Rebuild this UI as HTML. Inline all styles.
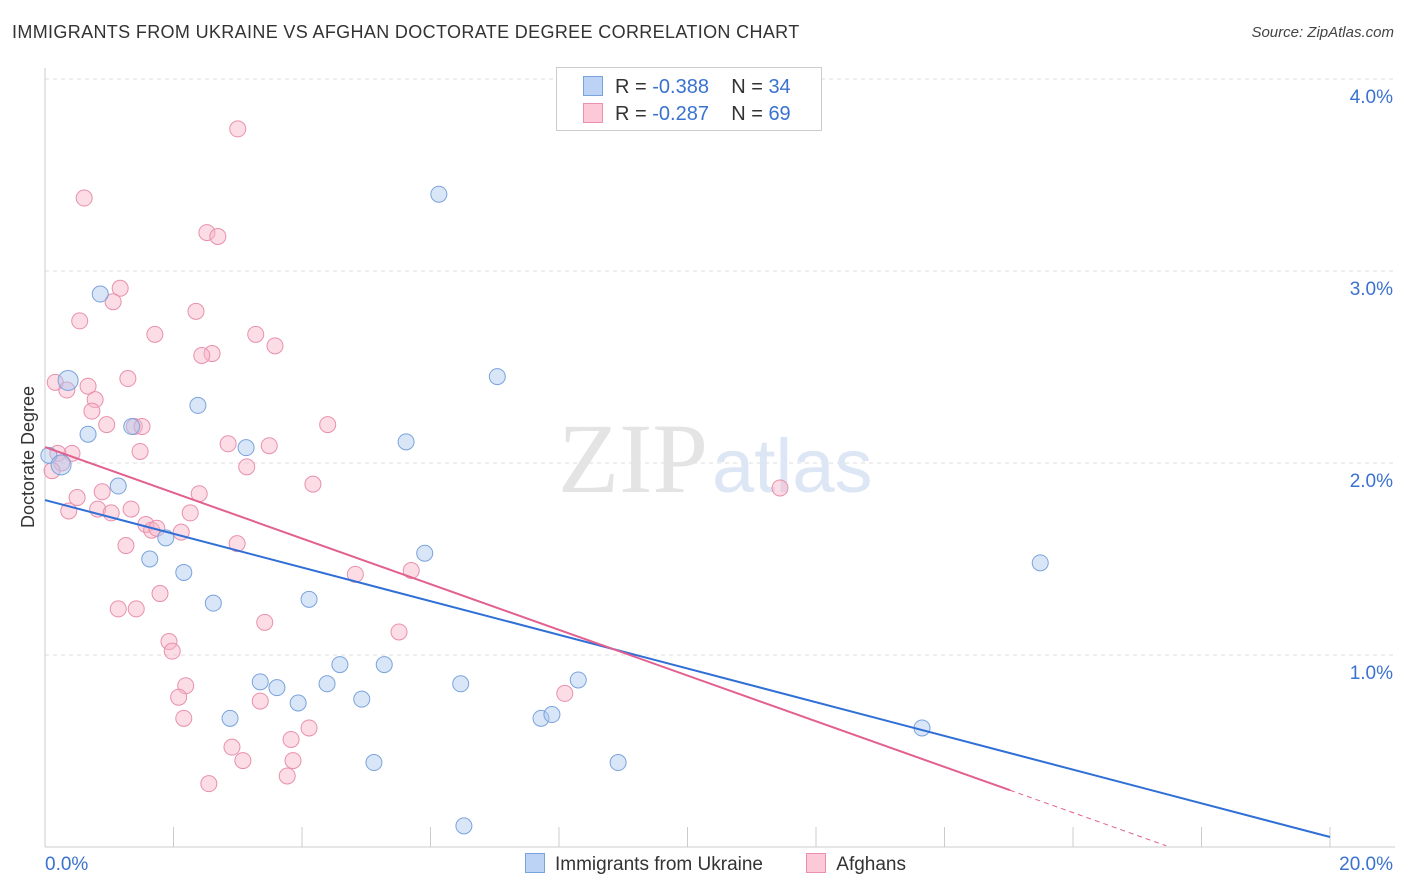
<!DOCTYPE html>
<html><head><meta charset="utf-8">
<style>
body{margin:0;background:#fff;font-family:"Liberation Sans",sans-serif;}
#wrap{position:relative;width:1406px;height:892px;overflow:hidden;}
.t{position:absolute;white-space:nowrap;}
</style></head>
<body>
<div id="wrap">
<div class="t" style="left:12px;top:22px;font-size:18px;letter-spacing:0.35px;color:#333;">IMMIGRANTS FROM UKRAINE VS AFGHAN DOCTORATE DEGREE CORRELATION CHART</div>
<div class="t" style="right:12px;top:24px;font-size:15px;color:#444;font-style:italic;">Source: ZipAtlas.com</div>
<svg id="svg" width="1406" height="892" style="position:absolute;left:0;top:0"></svg>
</div>
<script>
const xTicks=[0,2,4,6,8,10,12,14,16,18,20];
const yTicks=[1,2,3,4];
const blueX=[0.06,0.36,0.67,0.86,1.14,1.35,1.63,1.88,2.16,2.38,2.62,2.88,3.13,3.35,3.61,3.94,4.11,4.39,4.59,4.93,5.12,5.28,5.62,5.91,6.13,6.47,6.52,7.04,7.72,7.89,8.30,8.92,13.65,15.49,0.25];
const blueY=[2.04,2.43,2.15,2.88,1.88,2.19,1.50,1.61,1.43,2.30,1.27,0.67,2.08,0.86,0.83,0.75,1.29,0.85,0.95,0.77,0.44,0.95,2.11,1.53,3.40,0.85,0.11,2.45,0.67,0.69,0.87,0.44,0.62,1.48,1.99];
const pinkX=[3.00,0.61,2.52,2.69,1.17,1.06,0.54,2.35,1.71,3.28,3.58,2.60,2.44,1.29,0.16,0.67,0.34,0.78,0.73,1.39,0.96,1.51,4.40,2.85,3.49,1.48,0.42,0.20,0.26,3.14,0.11,4.17,11.44,0.50,0.89,2.40,0.37,0.82,1.03,1.34,2.26,1.57,1.66,1.74,2.12,2.99,1.26,4.83,5.70,1.79,1.14,1.42,3.42,5.51,1.93,1.98,2.19,2.08,8.09,3.35,2.16,4.11,2.91,3.83,3.08,3.86,3.77,2.55];
const pinkY=[3.74,3.38,3.20,3.18,2.91,2.84,2.74,2.79,2.67,2.67,2.61,2.57,2.56,2.44,2.42,2.40,2.38,2.33,2.27,2.19,2.20,2.19,2.20,2.10,2.09,2.06,2.05,2.05,2.00,1.98,1.96,1.89,1.87,1.82,1.85,1.84,1.75,1.76,1.74,1.76,1.74,1.68,1.65,1.66,1.64,1.58,1.57,1.42,1.44,1.32,1.24,1.24,1.17,1.12,1.07,1.02,0.84,0.78,0.80,0.76,0.67,0.62,0.52,0.56,0.45,0.45,0.37,0.33];
const blueLine=[1.807,0.052];
const pinkLine=[2.083,-0.119,15.02,17.45];
const X=v=>45+v*64.25, Y=v=>847-v*192;
const svg=document.getElementById('svg');const NS='http://www.w3.org/2000/svg';
function mk(t,a,name){const e=document.createElementNS(NS,t);for(const k in a)e.setAttribute(k,a[k]);


svg.appendChild(e);return e;}
yTicks.forEach(v=>{mk('line',{x1:45,x2:1395,y1:Y(v),y2:Y(v),stroke:'#ddd','stroke-dasharray':'4,4'},'gridline');
const t=mk('text',{x:1393,y:Y(v)+24,'text-anchor':'end','font-size':19,fill:'#3a72d0'},'y-tick-label');t.textContent=v.toFixed(1)+'%';});
mk('line',{x1:45,x2:45,y1:68,y2:847,stroke:'#ccc'},'y-axis');
mk('line',{x1:45,x2:1395,y1:847,y2:847,stroke:'#ccc'},'x-axis');
xTicks.forEach(v=>{if(v>0)mk('line',{x1:X(v),x2:X(v),y1:827,y2:847,stroke:'#ccc'},'x-tick');});
let t=mk('text',{x:45,y:870,'font-size':19,fill:'#3a72d0'},'x-tick-label');t.textContent='0.0%';
t=mk('text',{x:1393,y:870,'text-anchor':'end','font-size':19,fill:'#3a72d0'},'x-tick-label');t.textContent='20.0%';
t=mk('text',{x:34,y:457,'font-size':18,fill:'#333','text-anchor':'middle',transform:'rotate(-90 34 457)'},'y-axis-title');t.textContent='Doctorate Degree';
t=mk('text',{x:708,y:492,'font-size':100,fill:'#e4e4e4','text-anchor':'end','font-family':'Liberation Serif'},'watermark-zip');t.textContent='ZIP';
t=mk('text',{x:712,y:492,'font-size':76,fill:'#dce6f5'},'watermark-atlas');t.textContent='atlas';
pinkX.forEach((x,i)=>mk('circle',{cx:X(x),cy:Y(pinkY[i]),r:8,fill:'rgba(248,180,200,0.45)',stroke:'#e890ad','stroke-width':1},'afghans-point'));
blueX.forEach((x,i)=>mk('circle',{cx:X(x),cy:Y(blueY[i]),r:i==1||i==34?10:8,fill:'rgba(170,200,240,0.45)',stroke:'#7aa3dc','stroke-width':1},'ukraine-point'));
mk('line',{x1:X(0),y1:Y(blueLine[0]),x2:X(20),y2:Y(blueLine[1]),stroke:'#2f6fd6','stroke-width':2},'ukraine-trendline');
mk('line',{x1:X(0),y1:Y(pinkLine[0]),x2:X(pinkLine[2]),y2:Y(pinkLine[0]+pinkLine[1]*pinkLine[2]),stroke:'#e2608f','stroke-width':2},'afghans-trendline');
mk('line',{x1:X(pinkLine[2]),y1:Y(pinkLine[0]+pinkLine[1]*pinkLine[2]),x2:X(pinkLine[3]),y2:Y(pinkLine[0]+pinkLine[1]*pinkLine[3]),stroke:'#e2608f','stroke-width':1,'stroke-dasharray':'5,4'},'afghans-trendline-extension');
</script>
<div class="t" style="left:556px;top:67px;width:264px;height:62px;border:1px solid #ccc;background:#fff;font-size:20px;color:#333;">
<div style="position:absolute;left:26px;top:8px;"><span style="display:inline-block;width:18px;height:18px;background:#bcd3f5;border:1px solid #7aa3dc;vertical-align:-3px;margin-right:12px"></span>R = <span style="color:#3a72d0">-0.388</span>&nbsp;&nbsp;&nbsp; N = <span style="color:#3a72d0">34</span></div>
<div style="position:absolute;left:26px;top:35px;"><span style="display:inline-block;width:18px;height:18px;background:#fbc9d8;border:1px solid #e890ad;vertical-align:-3px;margin-right:12px"></span>R = <span style="color:#3a72d0">-0.287</span>&nbsp;&nbsp;&nbsp; N = <span style="color:#3a72d0">69</span></div>
</div>
<div class="t" style="left:525px;top:853px;font-size:19px;color:#333;">
<span style="display:inline-block;width:18px;height:18px;background:#bcd3f5;border:1px solid #7aa3dc;vertical-align:-3px;margin-right:10px"></span>Immigrants from Ukraine
<span style="display:inline-block;width:18px;height:18px;background:#fbc9d8;border:1px solid #e890ad;vertical-align:-3px;margin:0 10px 0 38px"></span>Afghans
</div>
</body></html>
